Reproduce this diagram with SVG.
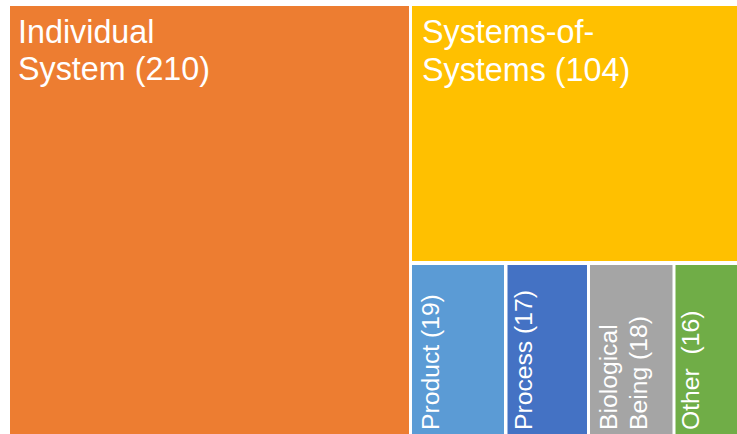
<svg xmlns="http://www.w3.org/2000/svg" width="737" height="434" viewBox="0 0 737 434">
<style>
text{font-family:"Liberation Sans",Arial,sans-serif;fill:#ffffff}
.big{font-size:32.3px}
.small{font-size:24.7px}
</style>
<rect width="737" height="434" fill="#ffffff"/>
<g id="individual">
<rect x="10" y="6" width="399" height="428" fill="#ED7D31"/>
<text class="big" x="18" y="43">Individual</text>
<text class="big" x="18" y="80">System (210)</text>
</g>
<g id="sos">
<rect x="412" y="6" width="325" height="255" fill="#FFC000"/>
<text class="big" x="422" y="43">Systems-of-</text>
<text class="big" x="422" y="81">Systems (104)</text>
</g>
<g id="product">
<rect x="412" y="265" width="92" height="169" fill="#5B9BD5"/>
<text class="small" transform="translate(439,430) rotate(-90)">Product (19)</text>
</g>
<g id="process">
<rect x="507.5" y="265" width="79.5" height="169" fill="#4472C4"/>
<text class="small" transform="translate(532,430) rotate(-90)">Process (17)</text>
</g>
<g id="biological">
<rect x="590" y="265" width="82.5" height="169" fill="#A5A5A5"/>
<text class="small" transform="translate(617,430) rotate(-90)">Biological</text>
<text class="small" transform="translate(647,430) rotate(-90)">Being (18)</text>
</g>
<g id="other">
<rect x="675.5" y="265" width="61.5" height="169" fill="#70AD47"/>
<text class="small" transform="translate(699,430) rotate(-90)" xml:space="preserve">Other  (16)</text>
</g>
<g id="connectors"></g>
</svg>
